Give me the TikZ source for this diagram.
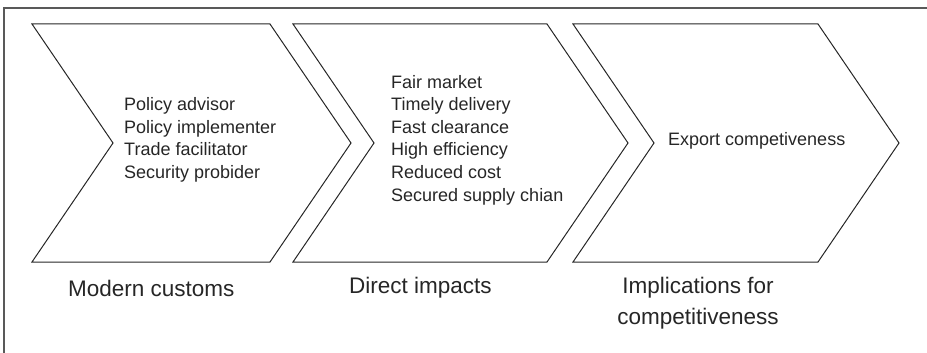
\documentclass[tikz,border=0pt]{standalone}
\usepackage{fontspec}
\setmainfont{Liberation Sans}

\tikzset{
  chevron/.style={draw=black!85, line width=1pt, line join=miter},
  itemtext/.style={anchor=west, align=left, inner sep=0pt, text=black!85,
    font=\fontsize{18}{22.6}\selectfont},
  steplabel/.style={inner sep=0pt, text=black!85,
    font=\fontsize{22.5}{31}\selectfont}
}

\begin{document}
\begin{tikzpicture}[x=1pt, y=-1pt]
    % -- page frame --
    \useasboundingbox (0,0) rectangle (927,353);
    \clip (0,0) rectangle (927,353);
    \draw[black!65, line width=1.5pt] (4,8) rectangle (940,370);

    % -- three chevrons (left edge / right edge) --
    \foreach \xl/\xr in {32/270, 293/547, 573/818}
        \draw[chevron]
            (\xl,24)
            -- (\xr,24)
            -- (\xr+81,143)
            -- (\xr,262)
            -- (\xl,262)
            -- (\xl+81,143)
            -- cycle;

    % -- text inside the chevrons --
    \node[itemtext] (roles) at (124,140)
        {Policy advisor\\Policy implementer\\Trade facilitator\\Security probider};
    \node[itemtext] (impacts) at (391,140)
        {Fair market\\Timely delivery\\Fast clearance\\High efficiency\\Reduced cost\\Secured supply chian};
    \node[itemtext] (export) at (668,141) {Export competiveness};

    % -- step titles below --
    \node[steplabel, anchor=west] (customs) at (68,288) {Modern customs};
    \node[steplabel, anchor=west] (direct) at (349,288) {Direct impacts};
    \node[steplabel, align=center] (implications) at (698,303)
        {Implications for\\competitiveness};
\end{tikzpicture}
\end{document}
